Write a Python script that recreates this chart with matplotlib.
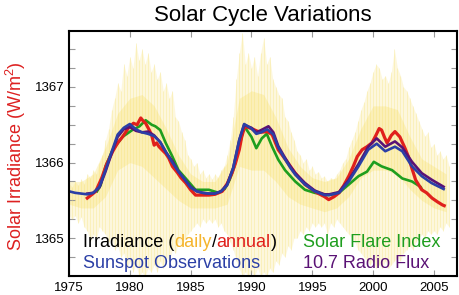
import matplotlib
matplotlib.use("Agg")
import matplotlib.pyplot as plt
import numpy as np
import matplotlib.ticker as ticker

plt.rcParams['font.family'] = ['Liberation Sans', 'DejaVu Sans']
plt.rcParams['mathtext.fontset'] = 'custom'
plt.rcParams['mathtext.rm'] = 'Liberation Sans'
plt.rcParams['mathtext.it'] = 'Liberation Sans'

# daily irradiance spread (upper / lower envelope, read every quarter year)
daily_year = np.arange(126) * 0.25 + 1975.0
daily_hi = [1365.72, 1365.68, 1365.75, 1365.70, 1365.78, 1365.72, 1365.85, 1365.80,
            1365.90, 1365.85, 1366.00, 1366.10, 1366.30, 1366.45, 1366.70, 1366.85,
            1367.05, 1366.95, 1367.30, 1367.15, 1367.40, 1367.25, 1367.58, 1367.35,
            1367.50, 1367.30, 1367.45, 1367.20, 1367.30, 1367.10, 1367.20, 1366.95,
            1367.05, 1366.85, 1366.95, 1366.60, 1366.55, 1366.40, 1366.30, 1366.10,
            1366.05, 1365.95, 1366.00, 1365.85, 1365.90, 1365.80, 1365.85, 1365.78,
            1365.85, 1365.80, 1365.90, 1365.95, 1366.10, 1366.30, 1366.60, 1367.10,
            1367.45, 1367.72, 1367.30, 1367.45, 1367.25, 1367.40, 1367.15, 1367.45,
            1367.65, 1367.30, 1367.40, 1367.10, 1367.00, 1366.90, 1366.85, 1366.60,
            1366.55, 1366.40, 1366.30, 1366.15, 1366.10, 1366.00, 1366.05, 1365.90,
            1365.95, 1365.85, 1365.88, 1365.80, 1365.82, 1365.75, 1365.80, 1365.78,
            1365.85, 1365.90, 1366.00, 1366.05, 1366.20, 1366.30, 1366.40, 1366.55,
            1366.70, 1366.80, 1366.95, 1367.05, 1367.20, 1367.30, 1367.25, 1367.10,
            1367.15, 1367.05, 1367.20, 1367.50, 1367.25, 1367.15, 1367.00, 1366.95,
            1366.85, 1366.75, 1366.65, 1366.55, 1366.45, 1366.35, 1366.40, 1366.20,
            1366.25, 1366.10, 1366.15, 1366.05, 1366.10, 1365.95]
daily_lo = [1365.30, 1365.25, 1365.30, 1365.20, 1365.28, 1365.15, 1365.10, 1364.95,
            1365.05, 1365.00, 1365.15, 1365.10, 1365.05, 1364.95, 1365.00, 1364.85,
            1364.90, 1364.75, 1364.80, 1364.60, 1364.70, 1364.55, 1364.65, 1364.50,
            1364.55, 1364.50, 1364.60, 1364.55, 1364.65, 1364.55, 1364.70, 1364.60,
            1364.75, 1364.70, 1364.85, 1364.80, 1364.95, 1364.90, 1365.00, 1365.05,
            1365.10, 1365.15, 1365.20, 1365.15, 1365.25, 1365.20, 1365.25, 1365.20,
            1365.25, 1365.15, 1365.20, 1365.10, 1365.05, 1364.95, 1364.85, 1364.70,
            1364.60, 1364.50, 1364.55, 1364.50, 1364.55, 1364.50, 1364.60, 1364.50,
            1364.55, 1364.50, 1364.60, 1364.55, 1364.70, 1364.65, 1364.80, 1364.75,
            1364.90, 1364.85, 1365.00, 1365.00, 1365.10, 1365.05, 1365.15, 1365.10,
            1365.20, 1365.15, 1365.20, 1365.15, 1365.20, 1365.05, 1365.20, 1365.15,
            1365.25, 1365.20, 1365.15, 1365.10, 1365.05, 1365.00, 1364.95, 1364.85,
            1364.80, 1364.75, 1364.70, 1364.65, 1364.70, 1364.60, 1364.65, 1364.60,
            1364.70, 1364.60, 1364.65, 1364.70, 1364.75, 1364.70, 1364.80, 1364.85,
            1364.90, 1364.85, 1364.95, 1365.00, 1365.05, 1365.00, 1365.10, 1365.05,
            1365.10, 1365.05, 1365.15, 1365.10, 1365.20, 1365.15]

# where most of the daily values fall (read once a year)
core_year = np.arange(32) + 1975.0
core_hi = [1365.75, 1365.75, 1365.85, 1366.20, 1366.65, 1366.85, 1366.90, 1366.75,
           1366.45, 1366.10, 1365.85, 1365.75, 1365.75, 1366.00, 1366.85, 1366.95,
           1366.90, 1366.60, 1366.20, 1365.95, 1365.80, 1365.75, 1365.80, 1366.05,
           1366.45, 1366.75, 1366.75, 1366.70, 1366.35, 1366.05, 1365.95, 1365.85]
core_lo = [1365.45, 1365.40, 1365.40, 1365.55, 1365.90, 1366.00, 1365.95, 1365.80,
           1365.65, 1365.50, 1365.40, 1365.40, 1365.40, 1365.45, 1365.95, 1365.90,
           1365.90, 1365.75, 1365.55, 1365.45, 1365.40, 1365.35, 1365.40, 1365.55,
           1365.80, 1365.90, 1365.90, 1365.85, 1365.65, 1365.50, 1365.40, 1365.35]

# annual irradiance (red)
irr_year = [1976.5, 1976.9, 1977.2, 1977.7, 1978.1, 1978.6, 1979.0, 1979.4, 1979.9, 1980.3,
            1980.6, 1980.9, 1981.1, 1981.3, 1981.6, 1981.8, 1982.0, 1982.2, 1982.4, 1982.7,
            1982.95, 1983.2, 1983.5, 1983.9, 1984.2, 1984.6, 1985.0, 1985.4, 1986.0, 1986.5,
            1987.0, 1987.6, 1988.0, 1988.4, 1988.7, 1989.0, 1989.2, 1989.45, 1990.0, 1990.7,
            1991.3, 1991.7, 1992.2, 1992.8, 1993.6, 1994.4, 1995.4, 1996.0, 1996.35, 1996.8,
            1997.2, 1997.6, 1998.0, 1998.4, 1998.7, 1999.1, 1999.5, 1999.9, 2000.2, 2000.5,
            2000.7, 2000.95, 2001.15, 2001.5, 2001.8, 2002.2, 2002.6, 2002.9, 2003.2, 2003.5,
            2004.0, 2004.4, 2004.85, 2005.3, 2005.7, 2005.85]
irr_val = [1365.53, 1365.58, 1365.62, 1365.80, 1365.98, 1366.15, 1366.26, 1366.34, 1366.46, 1366.52,
           1366.50, 1366.59, 1366.55, 1366.52, 1366.43, 1366.36, 1366.23, 1366.26, 1366.21, 1366.16,
           1366.12, 1366.06, 1365.95, 1365.87, 1365.80, 1365.73, 1365.64, 1365.57, 1365.57, 1365.57,
           1365.58, 1365.62, 1365.72, 1365.86, 1366.00, 1366.17, 1366.34, 1366.48, 1366.45, 1366.40,
           1366.41, 1366.37, 1366.17, 1366.04, 1365.86, 1365.71, 1365.60, 1365.55, 1365.51, 1365.55,
           1365.60, 1365.70, 1365.82, 1365.96, 1366.08, 1366.17, 1366.21, 1366.26, 1366.35, 1366.45,
           1366.43, 1366.33, 1366.26, 1366.36, 1366.41, 1366.34, 1366.20, 1366.08, 1365.92, 1365.77,
           1365.64, 1365.60, 1365.53, 1365.48, 1365.44, 1365.43]

# sunspot observations (blue)
ssn_year = [1975.0, 1975.5, 1976.0, 1976.5, 1977.0, 1977.5, 1978.0, 1978.5, 1979.0, 1979.5,
            1980.0, 1980.5, 1981.0, 1981.5, 1982.0, 1982.5, 1983.0, 1983.5, 1984.0, 1984.5,
            1985.0, 1985.5, 1986.0, 1986.5, 1987.0, 1987.5, 1988.0, 1988.5, 1989.0, 1989.4,
            1990.0, 1990.4, 1990.8, 1991.3, 1991.8, 1992.2, 1992.7, 1993.2, 1993.6, 1994.4,
            1995.2, 1996.0, 1996.4, 1997.2, 1998.0, 1998.8, 1999.6, 2000.3, 2001.0, 2001.8,
            2002.4, 2003.2, 2004.0, 2004.8, 2005.8]
ssn_val = [1365.62, 1365.60, 1365.59, 1365.58, 1365.60, 1365.68, 1365.90, 1366.14, 1366.37, 1366.46,
           1366.51, 1366.44, 1366.40, 1366.38, 1366.35, 1366.27, 1366.13, 1366.00, 1365.88, 1365.78,
           1365.67, 1365.62, 1365.60, 1365.59, 1365.59, 1365.62, 1365.70, 1365.93, 1366.30, 1366.51,
           1366.45, 1366.38, 1366.40, 1366.44, 1366.37, 1366.20, 1366.06, 1365.93, 1365.84, 1365.71,
           1365.62, 1365.57, 1365.57, 1365.60, 1365.75, 1365.95, 1366.17, 1366.25, 1366.15, 1366.21,
           1366.15, 1365.95, 1365.82, 1365.73, 1365.65]

# solar flare index (green)
flare_year = [1977.3, 1977.6, 1978.0, 1978.6, 1979.4, 1980.2, 1980.8, 1981.3, 1981.8, 1982.1,
              1982.5, 1982.95, 1983.5, 1984.0, 1984.6, 1985.4, 1986.5, 1987.3, 1987.8, 1988.2,
              1988.6, 1989.0, 1989.4, 1990.0, 1990.4, 1990.85, 1991.26, 1991.7, 1992.2, 1992.76,
              1993.6, 1994.4, 1995.2, 1996.35, 1997.2, 1998.0, 1998.8, 1999.5, 2000.06, 2000.7,
              2001.56, 2002.4, 2003.2, 2003.9, 2004.0]
flare_val = [1365.62, 1365.70, 1365.95, 1366.17, 1366.34, 1366.43, 1366.48, 1366.56, 1366.50, 1366.48,
             1366.43, 1366.26, 1366.08, 1365.90, 1365.79, 1365.64, 1365.64, 1365.60, 1365.65, 1365.77,
             1365.95, 1366.21, 1366.48, 1366.34, 1366.19, 1366.32, 1366.38, 1366.21, 1366.04, 1365.90,
             1365.75, 1365.64, 1365.60, 1365.57, 1365.60, 1365.71, 1365.82, 1365.88, 1366.01, 1365.95,
             1365.90, 1365.79, 1365.75, 1365.68, 1365.65]

# 10.7 cm radio flux (purple)
radio_year = [1976.5, 1977.0, 1977.5, 1978.0, 1978.5, 1979.0, 1979.5, 1980.0, 1980.5, 1981.0,
              1981.5, 1982.0, 1982.5, 1983.0, 1983.5, 1984.0, 1984.5, 1985.0, 1985.5, 1986.0,
              1986.5, 1987.0, 1987.5, 1988.0, 1988.5, 1989.0, 1989.4, 1990.0, 1990.4, 1990.8,
              1991.4, 1991.8, 1992.2, 1992.7, 1993.2, 1993.6, 1994.4, 1995.2, 1996.0, 1996.4,
              1997.2, 1998.0, 1998.8, 1999.6, 2000.3, 2001.0, 2001.8, 2002.4, 2003.2, 2004.0,
              2004.85, 2005.8]
radio_val = [1365.59, 1365.60, 1365.67, 1365.88, 1366.12, 1366.34, 1366.44, 1366.47, 1366.42, 1366.40,
             1366.41, 1366.36, 1366.27, 1366.13, 1366.02, 1365.88, 1365.78, 1365.68, 1365.62, 1365.60,
             1365.59, 1365.59, 1365.62, 1365.71, 1365.93, 1366.30, 1366.50, 1366.46, 1366.40, 1366.43,
             1366.48, 1366.40, 1366.22, 1366.08, 1365.95, 1365.86, 1365.73, 1365.63, 1365.58, 1365.58,
             1365.61, 1365.77, 1365.98, 1366.21, 1366.32, 1366.21, 1366.28, 1366.20, 1366.01, 1365.86,
             1365.77, 1365.68]

fig = plt.figure(figsize=(4.6, 2.95), dpi=100)
ax = fig.add_axes([0.15, 0.0644, 0.8435, 0.8305])

ax.fill_between(daily_year, daily_lo, daily_hi, color='#f8e27a', alpha=0.25, lw=0)
ax.vlines(daily_year, daily_lo, daily_hi, color='#f5dc5c', alpha=0.3, lw=0.6)
ax.fill_between(core_year, core_lo, core_hi, color='#f7df62', alpha=0.3, lw=0)

ax.plot(flare_year, flare_val, color='#1e9e1e', lw=1.9)
ax.plot(irr_year, irr_val, color='#e0201c', lw=2.3)
ax.plot(radio_year, radio_val, color='#5a1275', lw=1.9)
ax.plot(ssn_year, ssn_val, color='#2b3fa6', lw=1.9)

ax.set_xlim(1975, 2006.9)
ax.set_ylim(1364.5, 1367.74)
ax.xaxis.set_major_locator(ticker.MultipleLocator(5))
ax.yaxis.set_major_locator(ticker.MultipleLocator(1))
ax.yaxis.set_minor_locator(ticker.MultipleLocator(0.25))
ax.tick_params(which='both', direction='in', top=True, right=True, color='#999999',
               length=4, width=0.8, labelsize=9.5, labelcolor='black')
ax.tick_params(axis='x', pad=4)
for s in ax.spines.values():
    s.set_linewidth(1.5)

ax.set_title('Solar Cycle Variations', fontsize=16, pad=7)
ax.set_ylabel('Solar Irradiance (W/m$^2$)', color='#dd2020', fontsize=13)
ax.yaxis.set_label_coords(-0.105, 0.49)

fs = 13
t = ax.text(0.036, 0.135, 'Irradiance (', transform=ax.transAxes, fontsize=fs,
            color='black', va='center')
for word, col in [('daily', '#f5b52e'), ('/', 'black'), ('annual', '#e0201c'), (')', 'black')]:
    t = ax.annotate(word, xy=(1, 0), xycoords=t, va='bottom', fontsize=fs, color=col)
ax.text(0.036, 0.053, 'Sunspot Observations', transform=ax.transAxes, fontsize=fs,
        color='#2b3fa6', va='center')
ax.text(0.603, 0.135, 'Solar Flare Index', transform=ax.transAxes, fontsize=fs,
        color='#1e9e1e', va='center')
ax.text(0.603, 0.053, '10.7 Radio Flux', transform=ax.transAxes, fontsize=fs,
        color='#5a1275', va='center')

fig.savefig('out.png', dpi=100)
